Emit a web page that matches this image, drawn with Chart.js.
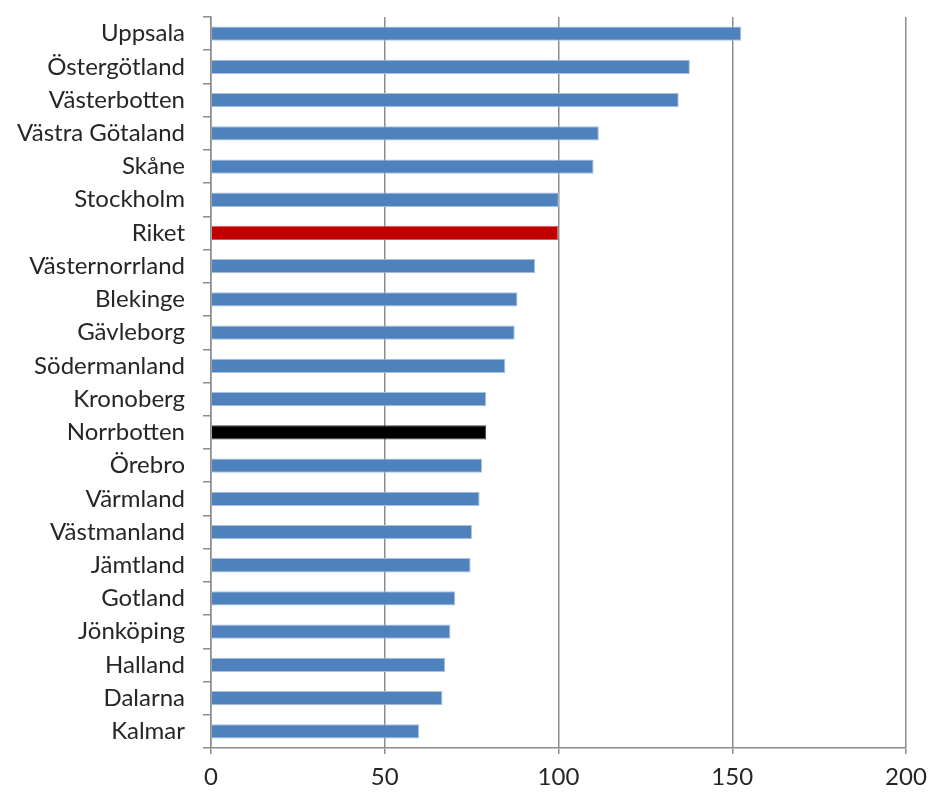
<!DOCTYPE html>
<html>
<head>
<meta charset="utf-8">
<script src="https://cdn.jsdelivr.net/npm/chart.js@4/dist/chart.umd.min.js"></script>
<style>
  html, body { margin: 0; padding: 0; background: #fff; }
  #wrap { width: 928px; height: 792px; }
</style>
</head>
<body>
<div id="wrap"><canvas id="chart"></canvas></div>
<script>
const regions = [
  "Uppsala", "Östergötland", "Västerbotten", "Västra Götaland", "Skåne",
  "Stockholm", "Riket", "Västernorrland", "Blekinge", "Gävleborg",
  "Södermanland", "Kronoberg", "Norrbotten", "Örebro", "Värmland",
  "Västmanland", "Jämtland", "Gotland", "Jönköping", "Halland",
  "Dalarna", "Kalmar"
];
const values = [
  152.6, 137.8, 134.6, 111.6, 110.1,
  100.1, 99.9, 93.3, 88.2, 87.4,
  84.7, 79.2, 79.2, 78.0, 77.3,
  75.1, 74.7, 70.3, 68.9, 67.4,
  66.6, 59.9
];
const xTicks = [0, 50, 100, 150, 200];

const barColor = (name) => name === "Riket" ? "#C00000" : name === "Norrbotten" ? "#000000" : "#4F81BD";
const borderColor = (name) => name === "Riket" ? "#D9595B" : name === "Norrbotten" ? "#404040" : "#A9C1DF";

const font = { family: "Lato, 'Open Sans', sans-serif", size: 24 };

new Chart(document.getElementById("chart"), {
  type: "bar",
  data: {
    labels: regions,
    datasets: [{
      data: values,
      backgroundColor: regions.map(barColor),
      borderColor: regions.map(borderColor),
      borderWidth: 1,
      categoryPercentage: 0.43,
      barPercentage: 1.0,
    }],
  },
  options: {
    indexAxis: "y",
    responsive: true,
    maintainAspectRatio: false,
    animation: false,
    layout: { padding: { top: 17, right: 22, left: 0, bottom: 0 } },
    plugins: { legend: { display: false }, tooltip: { enabled: false } },
    scales: {
      x: {
        min: 0,
        max: 200,
        afterBuildTicks: (scale) => { scale.ticks = xTicks.map((v) => ({ value: v })); },
        afterFit: (scale) => {
          scale.height = 44;
          scale.paddingLeft = 0;
          scale.paddingRight = 0;
        },
        grid: { color: "#8C8C8C", lineWidth: 1.5, tickLength: 6, drawTicks: true },
        border: { color: "#8C8C8C", width: 1.5 },
        ticks: { color: "#262626", font: font, padding: 9 },
      },
      y: {
        afterFit: (scale) => {
          scale.width = 211;
          scale.paddingTop = 0;
          scale.paddingBottom = 0;
        },
        grid: { drawOnChartArea: false, drawTicks: true, tickLength: 8, color: "#8C8C8C", lineWidth: 1.5, offset: true },
        border: { color: "#8C8C8C", width: 1.5 },
        ticks: { color: "#262626", font: font, padding: 18, autoSkip: false },
      },
    },
  },
});
</script>
</body>
</html>
